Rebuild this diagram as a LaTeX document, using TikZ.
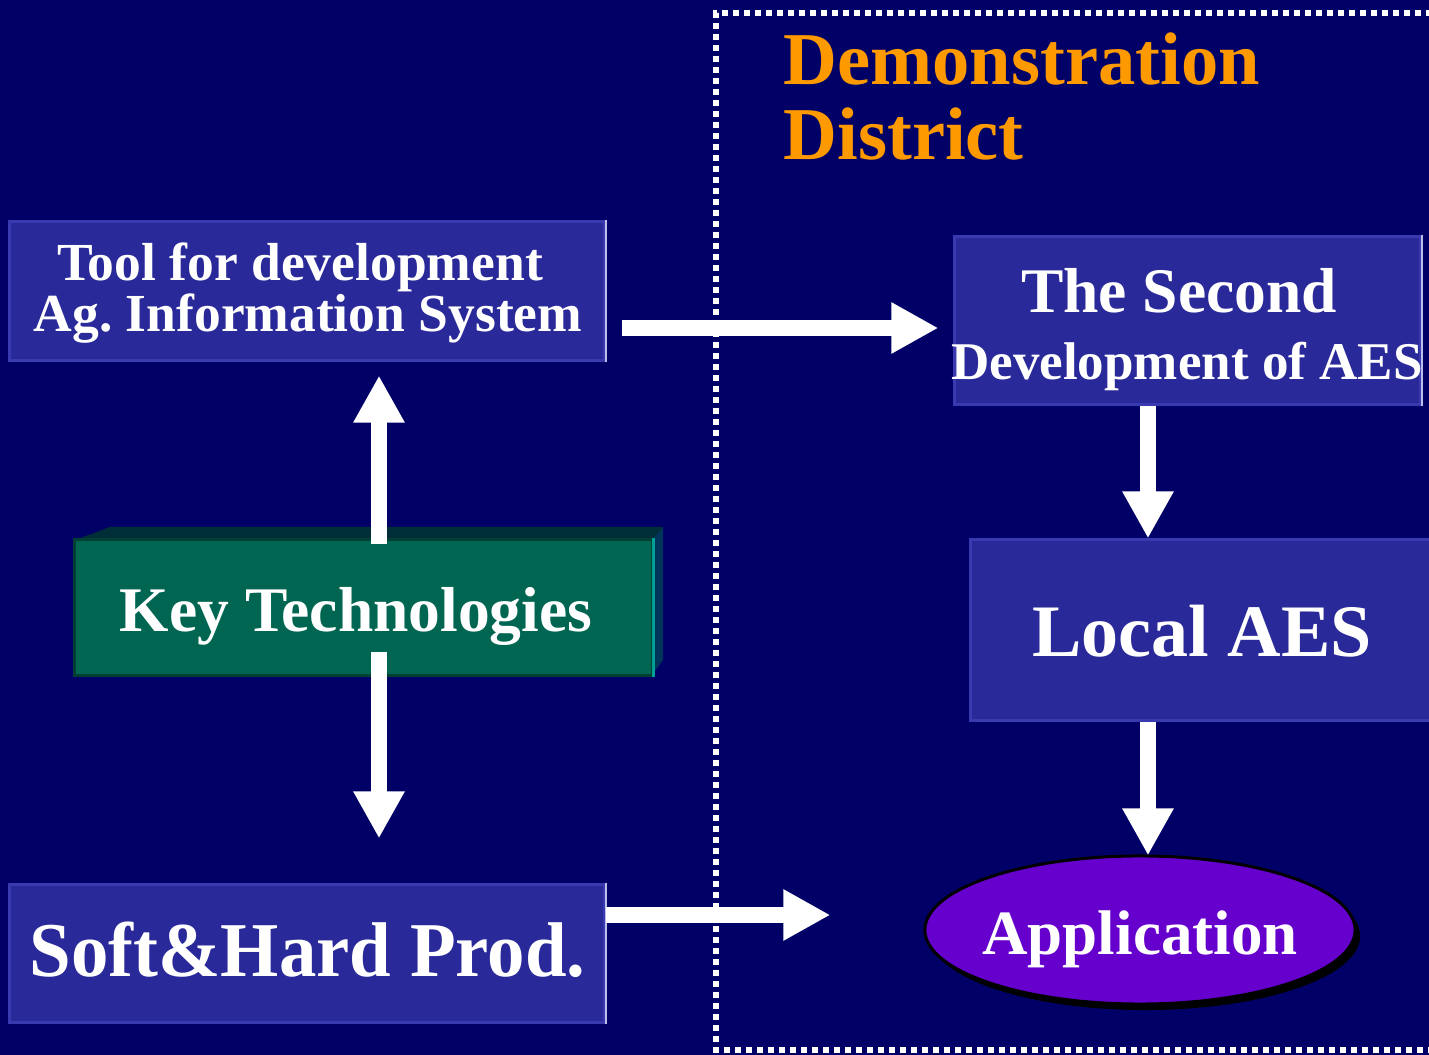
\documentclass[tikz,border=0pt]{standalone}
\usepackage{fontspec}
\usepackage{graphicx}
\setmainfont{Liberation Serif}
\frenchspacing
\usetikzlibrary{arrows.meta,calc,shapes.geometric,shadows}

\definecolor{navy}{RGB}{0,0,102}
\definecolor{boxblue}{RGB}{41,41,153}
\definecolor{boxedge}{RGB}{58,58,176}
\definecolor{boxlight}{RGB}{190,190,235}
\definecolor{keygreen}{RGB}{0,102,82}
\definecolor{keyedge}{RGB}{0,64,52}
\definecolor{keytop}{RGB}{0,46,56}
\definecolor{keyside}{RGB}{0,52,88}
\definecolor{keyrim}{RGB}{0,160,150}
\definecolor{apppurple}{RGB}{102,0,204}
\definecolor{titleorange}{RGB}{255,153,0}

\begin{document}
\begin{tikzpicture}[x=0.01cm,y=-0.01cm,
  bluebox/.style={fill=boxblue, draw=boxedge, line width=0.03cm, inner sep=0pt},
  keyface/.style={fill=keygreen, draw=keyedge, line width=0.03cm, inner sep=0pt},
  txt/.style={text=white, font=\bfseries, anchor=base, inner sep=0pt},
  fat/.style={white, line width=0.16cm,
    -{Triangle[width=0.48cm,length=0.47cm]}},
  border/.style={white, line width=0.06cm, dash pattern=on 0.06cm off 0.05cm}]

% page and background
\useasboundingbox (0,0) rectangle (1429,1055);
\fill[navy] (0,0) rectangle (1429,1055);

% dotted frame of the demonstration district
\coordinate (fbl) at (716,1050);
\coordinate (ftl) at (716,13);
\coordinate (ftr) at (1445,13);
\coordinate (fbr) at (1445,1050);
\draw[border] (fbr) -- (fbl) -- (ftl) -- (ftr);

% title
\node[txt, anchor=base west, text=titleorange, font=\bfseries\fontsize{0.745cm}{0.8cm}\selectfont]
  (title1) at (783,85) {Demonstration};
\node[txt, anchor=base west, text=titleorange, font=\bfseries\fontsize{0.745cm}{0.8cm}\selectfont]
  (title2) at (783,160) {District};

% left column boxes
\node[bluebox, minimum width=5.94cm, minimum height=1.38cm] (tool) at (307,291) {};
\draw[boxlight, line width=0.02cm] (tool.north east) -- (tool.south east);
\node[txt, font=\bfseries\fontsize{0.535cm}{0.6cm}\selectfont] at (300,281) {Tool for development};
\node[txt, font=\bfseries\fontsize{0.535cm}{0.6cm}\selectfont] at (308,332) {Ag. Information System};

\node[bluebox, minimum width=5.94cm, minimum height=1.37cm] (soft) at (307,953.5) {};
\draw[boxlight, line width=0.02cm] (soft.north east) -- (soft.south east);
\node[txt, font=\bfseries\fontsize{0.775cm}{0.8cm}\selectfont] at (307.5,977)
  {\scalebox{0.965}[1]{Soft\&Hard Prod.}};

% key technologies block with bevelled top and side
\fill[keytop] (75,540) -- (110,527) -- (663,527) -- (652,540) -- cycle;
\fill[keyside] (652,540) -- (663,527) -- (663,660) -- (652,675) -- cycle;
\node[keyface, minimum width=5.77cm, minimum height=1.35cm] (key) at (363.5,607.5) {};
\draw[keyrim, line width=0.025cm] (key.north east) -- (key.south east);
\node[txt, font=\bfseries\fontsize{0.635cm}{0.7cm}\selectfont] at (356,632) {Key Technologies};

% right column
\node[bluebox, minimum width=4.65cm, minimum height=1.67cm] (second) at (1187.5,320.5) {};
\draw[boxlight, line width=0.02cm] (second.north east) -- (second.south east);
\node[txt, font=\bfseries\fontsize{0.635cm}{0.7cm}\selectfont] at (1179,313) {The Second};
\node[txt, font=\bfseries\fontsize{0.53cm}{0.6cm}\selectfont] at (1187,380) {Development of AES};

\node[bluebox, minimum width=4.8cm, minimum height=1.8cm] (local) at (1211,630) {};
\node[txt, font=\bfseries\fontsize{0.74cm}{0.8cm}\selectfont] at (1202,657) {Local AES};

\node[ellipse, fill=apppurple, draw=black, line width=0.03cm,
  minimum width=4.3cm, minimum height=1.48cm, inner sep=0pt,
  drop shadow={shadow xshift=0.05cm, shadow yshift=-0.06cm, opacity=1, fill=black}]
  (app) at (1140,930) {};
\node[txt, font=\bfseries\fontsize{0.63cm}{0.7cm}\selectfont] at (1140,955) {Application};

% connectors
\draw[fat] ($(key.north)+(15.5,6)$) -- ($(tool.south)+(72,14)$);
\draw[fat] ($(key.south)+(15.5,-25)$) -- ($(soft.north)+(72,-45)$);
\draw[fat] ($(tool.east)+(16,37)$) -- ($(second.west)+(-15,7.5)$);
\draw[fat] ($(soft.east)+(0,-38.5)$) -- ($(app.west)+(-93,-15)$);
\draw[fat] ($(second.south)+(-39.5,0)$) -- ($(local.north)+(-63,0)$);
\draw[fat] ($(local.south)+(-63,0)$) -- ($(app.north)+(8,1)$);

\end{tikzpicture}
\end{document}
